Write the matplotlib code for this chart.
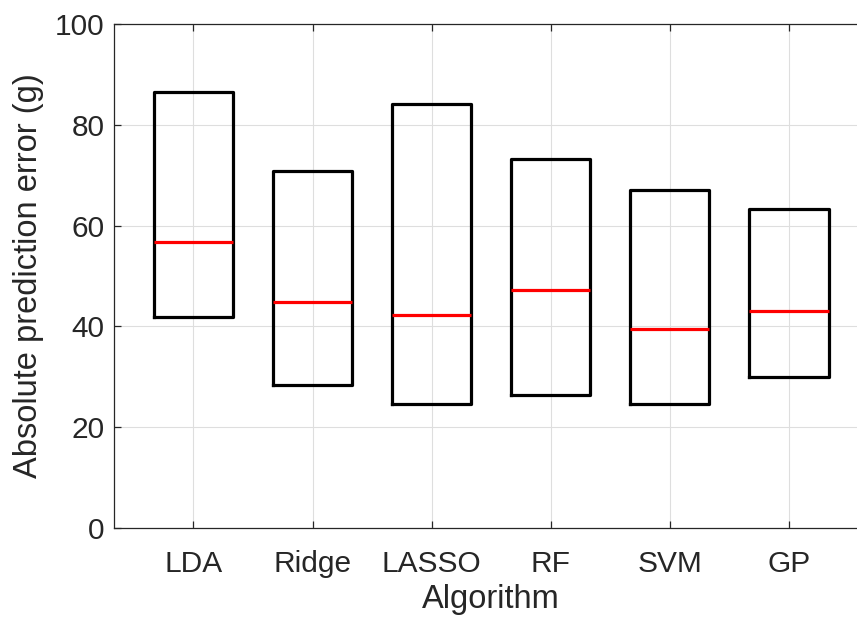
import matplotlib.pyplot as plt

plt.rcParams['font.family'] = ['Liberation Sans', 'DejaVu Sans']

# Box statistics per algorithm (g)
algorithms = ['LDA', 'Ridge', 'LASSO', 'RF', 'SVM', 'GP']
q1 = [41.9, 28.4, 24.6, 26.4, 24.6, 30.0]
median = [56.7, 44.8, 42.3, 47.2, 39.5, 43.1]
q3 = [86.5, 70.8, 84.1, 73.2, 67.1, 63.3]

dark = '#262626'

fig = plt.figure(figsize=(8.57, 6.17), dpi=100)
ax = fig.add_axes([0.1330, 0.1442, 0.880, 0.8169])

stats = [dict(label=a, q1=lo, med=m, q3=hi, whislo=lo, whishi=hi, fliers=[])
         for a, lo, m, hi in zip(algorithms, q1, median, q3)]
positions = list(range(1, len(algorithms) + 1))
ax.bxp(stats, positions=positions, widths=0.67, showcaps=False,
       boxprops=dict(color='black', lw=2.3),
       whiskerprops=dict(color='black', lw=0),
       medianprops=dict(color='red', lw=2.3))

ax.set_xlim(0.332, 6.668)
ax.set_ylim(0, 100)
ax.set_yticks([0, 20, 40, 60, 80, 100])
ax.set_xticks(positions)
ax.set_xticklabels(algorithms)

ax.grid(True, color='#dedede', lw=0.8)
ax.set_axisbelow(True)
for side in ['left', 'bottom', 'top']:
    ax.spines[side].set_color(dark)
    ax.spines[side].set_linewidth(0.9)
ax.spines['right'].set_visible(False)

ax.tick_params(direction='in', length=5, width=0.9, color=dark,
               labelcolor=dark, labelsize=21.5, top=True, right=False)
ax.tick_params(axis='x', pad=16)
ax.tick_params(axis='y', pad=7)

ax.set_xlabel('Algorithm', fontsize=23.5, color=dark, labelpad=4)
ax.set_ylabel('Absolute prediction error (g)', fontsize=23.5, color=dark, labelpad=8)

fig.savefig('out.png', dpi=100)
